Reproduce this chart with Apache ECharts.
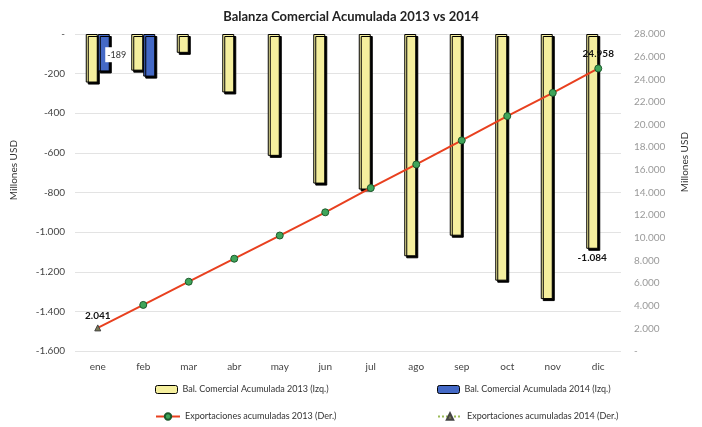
<!DOCTYPE html>
<html>
<head>
<meta charset="utf-8">
<script src="https://cdn.jsdelivr.net/npm/echarts@6/dist/echarts.min.js"></script>
<style>html,body{margin:0;padding:0;background:#fff}#c{width:702px;height:427px}</style>
</head>
<body>
<div id="c"></div>
<script>
const months = ['ene','feb','mar','abr','may','jun','jul','ago','sep','oct','nov','dic'];
const bal2013 = [-245, -185, -95, -295, -615, -755, -785, -1122, -1018, -1245, -1338, -1084];
const bal2014 = [-189, -215, null, null, null, null, null, null, null, null, null, null];
const exp2013 = [2041, 4070, 6120, 8150, 10200, 12250, 14400, 16480, 18600, 20750, 22800, 24958];
const exp2014 = [2041, null, null, null, null, null, null, null, null, null, null, null];
const leftTicks = {min: -1600, max: 0, interval: 200};
const rightTicks = {min: 0, max: 28000, interval: 2000};

function fmt(v) {
  if (v === 0) return '-';
  const s = Math.abs(Math.round(v)).toString().replace(/\B(?=(\d{3})+(?!\d))/g, '.');
  return (v < 0 ? '-' : '') + s;
}

const FONT = 'Lato';
const chart = echarts.init(document.getElementById('c'), null, {renderer: 'canvas'});
const barStyle = (c) => ({color: c, borderColor: '#000', borderWidth: 1, shadowColor: '#000', shadowOffsetX: 2, shadowOffsetY: 2, shadowBlur: 0});
const lblStyle = {fontFamily: FONT, fontSize: 10, fontWeight: 'bold', color: '#111'};

const option = {
  backgroundColor: '#fff',
  animation: false,
  textStyle: {fontFamily: FONT},
  title: {
    text: 'Balanza Comercial Acumulada 2013 vs 2014',
    left: 'center', top: 5,
    textStyle: {fontFamily: FONT, fontSize: 13, fontWeight: 'bold', color: '#222'}
  },
  grid: {left: 75, right: 81, top: 34, bottom: 76, containLabel: false},
  legend: [
    {data: ['Bal. Comercial Acumulada 2013 (Izq.)'], left: 150, top: 380, itemWidth: 22, itemHeight: 8, itemGap: 3,
     textStyle: {fontFamily: FONT, fontSize: 9, color: '#333'}, itemStyle: {borderColor: '#000', borderWidth: 1, shadowBlur: 0, shadowOffsetX: 0, shadowOffsetY: 0}},
    {data: ['Bal. Comercial Acumulada 2014 (Izq.)'], left: 432, top: 380, itemWidth: 22, itemHeight: 8, itemGap: 3,
     textStyle: {fontFamily: FONT, fontSize: 9, color: '#333'}, itemStyle: {borderColor: '#000', borderWidth: 1, shadowBlur: 0, shadowOffsetX: 0, shadowOffsetY: 0}},
    {data: ['Exportaciones acumuladas 2013 (Der.)'], left: 150, top: 407, itemWidth: 24, itemHeight: 8, itemGap: 3,
     textStyle: {fontFamily: FONT, fontSize: 9, color: '#333'}},
    {data: ['Exportaciones acumuladas 2014 (Der.)'], left: 432, top: 407, itemWidth: 24, itemHeight: 8, itemGap: 3,
     textStyle: {fontFamily: FONT, fontSize: 9, color: '#333'}}
  ],
  xAxis: {
    type: 'category', data: months,
    axisLine: {show: false, onZero: false}, axisTick: {show: false},
    axisLabel: {fontFamily: FONT, fontSize: 10, color: '#444', margin: 11}
  },
  yAxis: [
    {type: 'value', min: leftTicks.min, max: leftTicks.max, interval: leftTicks.interval,
     axisLine: {show: false}, axisTick: {show: false},
     axisLabel: {fontFamily: FONT, fontSize: 10, color: '#444', formatter: fmt, margin: 10},
     splitLine: {lineStyle: {color: '#e3e3e3', width: 1}}},
    {type: 'value', min: rightTicks.min, max: rightTicks.max, interval: rightTicks.interval,
     axisLine: {show: false}, axisTick: {show: false},
     axisLabel: {fontFamily: FONT, fontSize: 10, color: '#9a9a9a', formatter: fmt, margin: 13},
     splitLine: {show: false}}
  ],
  graphic: [
    {type: 'text', left: 9, top: 140, rotation: Math.PI / 2,
     style: {text: 'Millones USD', font: '10px ' + FONT, fill: '#333'}},
    {type: 'text', left: 680, top: 132, rotation: Math.PI / 2,
     style: {text: 'Millones USD', font: '10px ' + FONT, fill: '#333'}}
  ],
  series: [
    {name: 'Bal. Comercial Acumulada 2013 (Izq.)', type: 'bar', yAxisIndex: 0, barWidth: 12, barGap: '0%',
     itemStyle: barStyle('#f5ef9e'),
     data: bal2013.map((v, i) => i === bal2013.length - 1 ? {value: v, label: Object.assign({show: true, position: 'bottom', distance: 4, formatter: p => fmt(p.value)}, lblStyle)} : v)},
    {name: 'Bal. Comercial Acumulada 2014 (Izq.)', type: 'bar', yAxisIndex: 0, barWidth: 12, barGap: '0%',
     itemStyle: barStyle('#4469c6'),
     data: bal2014.map((v, i) => i === 0 ? {value: v, label: {show: true, position: 'inside', offset: [13, 2], formatter: p => fmt(p.value), fontFamily: FONT, fontSize: 9, color: '#333', backgroundColor: '#fff', padding: [3, 2]}} : v)},
    {name: 'Exportaciones acumuladas 2013 (Der.)', type: 'line', yAxisIndex: 1, z: 5,
     symbol: 'circle', symbolSize: 7,
     lineStyle: {color: '#e8401f', width: 2},
     itemStyle: {color: '#3fa55a', borderColor: '#1d5a2c', borderWidth: 1},
     data: exp2013.map((v, i) => i === exp2013.length - 1 ? {value: v, label: Object.assign({show: true, position: 'top', distance: 6, formatter: p => fmt(p.value)}, lblStyle)} : (i === 0 ? {value: v, symbol: 'none'} : v))},
    {name: 'Exportaciones acumuladas 2014 (Der.)', type: 'line', yAxisIndex: 1, z: 6,
     symbol: 'triangle', symbolSize: 6,
     lineStyle: {color: '#9bbb59', width: 1.5, type: 'dotted'},
     itemStyle: {color: '#7a7a55', borderColor: '#444', borderWidth: 1},
     data: exp2014.map((v, i) => i === 0 ? {value: v, label: Object.assign({show: true, position: 'top', distance: 4, formatter: p => fmt(p.value)}, lblStyle)} : v)}
  ]
};
chart.setOption(option);
</script>
</body>
</html>
